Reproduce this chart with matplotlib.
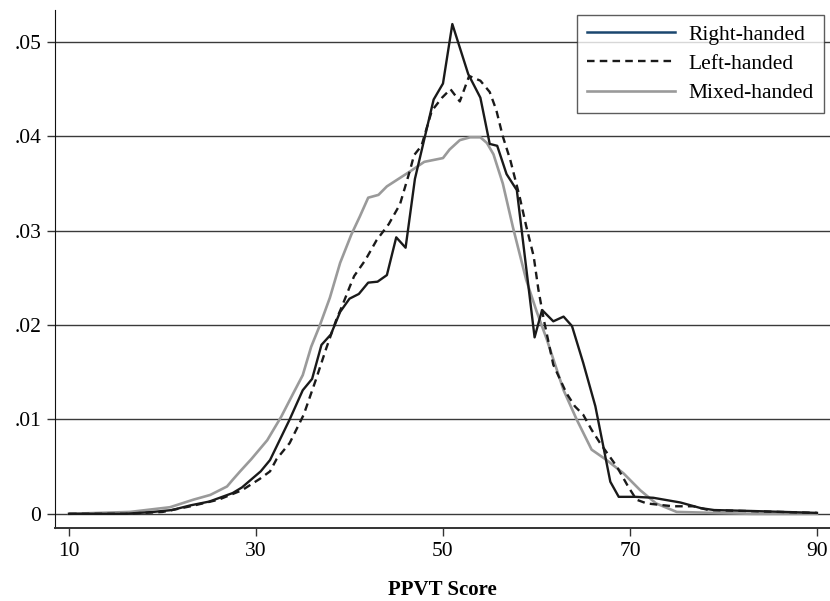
"""
PPVT score densities by handedness, redrawn with matplotlib.
"""

import matplotlib

matplotlib.use("Agg")
import matplotlib.pyplot as plt
from matplotlib.lines import Line2D

plt.rcParams["font.family"] = ["Liberation Serif", "DejaVu Serif"]

# values (score, density)
right_x = [10, 16, 19, 21, 23, 25, 27.5, 28.5, 30.5, 31.5, 33.6, 35, 36, 37, 38, 39, 40, 41,
           42, 43, 44, 45, 46, 47, 49, 50, 51, 52.7, 54, 55, 55.8, 56.8, 57.9, 59.8, 60.6,
           61.8, 62.9, 63.8, 65, 66.3, 67.9, 68.8, 70.6, 72.5, 75.4, 77.6, 79, 83, 90]
right_y = [0.0, 0.0, 0.0002, 0.0004, 0.0009, 0.0013, 0.0022, 0.0028, 0.0045, 0.0057, 0.0100,
           0.0131, 0.0143, 0.0179, 0.0190, 0.0214, 0.0228, 0.0233, 0.0245, 0.0246, 0.0253,
           0.0293, 0.0282, 0.0355, 0.0439, 0.0456, 0.0519, 0.0466, 0.0441, 0.0392, 0.0390,
           0.0360, 0.0343, 0.0187, 0.0216, 0.0204, 0.0209, 0.0199, 0.0160, 0.0114, 0.0034,
           0.0018, 0.0018, 0.0017, 0.0012, 0.0006, 0.0004, 0.0003, 0.0001]

left_x = [10, 16, 20, 23, 26, 28.5, 30.4, 31.5, 32.2, 33.6, 35.1, 36.4, 37.5, 38.6, 39.2, 40,
          40.5, 41.7, 42.9, 44.2, 45.4, 46.5, 46.9, 47.7, 48.8, 49.9, 50.8, 51.8, 52.8, 54,
          55, 55.7, 56.4, 57.2, 58.2, 58.9, 59.7, 60.2, 60.8, 61.8, 63.2, 64.1, 65, 65.9,
          66.8, 68.6, 69.8, 70.7, 71.8, 74.6, 76.8, 78.4, 90]
left_y = [0.0, 0.0, 0.0002, 0.0008, 0.0015, 0.0025, 0.0037, 0.0045, 0.0058, 0.0075, 0.0105,
          0.0142, 0.0175, 0.0206, 0.0220, 0.0240, 0.0252, 0.0269, 0.0290, 0.0307, 0.0328,
          0.0365, 0.0380, 0.0390, 0.0427, 0.0441, 0.0450, 0.0437, 0.0464, 0.0459, 0.0447,
          0.0428, 0.0400, 0.0375, 0.0336, 0.0305, 0.0273, 0.0238, 0.0205, 0.0158, 0.0128,
          0.0114, 0.0105, 0.0089, 0.0075, 0.0050, 0.0029, 0.0015, 0.0011, 0.0008, 0.0008,
          0.0004, 0.0001]

mixed_x = [10, 16.5, 20.8, 23.3, 25.1, 26.9, 27.5, 28.3, 29.5, 31.2, 32.7, 34, 35, 35.9, 36.8,
           37.9, 39, 40.2, 41.1, 42, 43.1, 44, 46.5, 48, 49, 50, 50.7, 51.8, 52.9, 54, 54.7,
           55.4, 56.4, 57.5, 58.9, 60, 61.1, 62.9, 64.3, 65.9, 67.5, 69.3, 71.1, 72.8, 75,
           83, 90]
mixed_y = [0.0, 0.0002, 0.0007, 0.0015, 0.0020, 0.0029, 0.0036, 0.0045, 0.0058, 0.0078,
           0.0103, 0.0128, 0.0147, 0.0177, 0.0199, 0.0229, 0.0266, 0.0296, 0.0315, 0.0335,
           0.0338, 0.0347, 0.0363, 0.0373, 0.0375, 0.0377, 0.0386, 0.0396, 0.0399, 0.0399,
           0.0393, 0.0381, 0.0350, 0.0303, 0.0248, 0.0215, 0.0185, 0.0131, 0.0100, 0.0068,
           0.0057, 0.0043, 0.0025, 0.0011, 0.0002, 0.0, 0.0]

x_ticks = [10, 30, 50, 70, 90]
y_ticks = [0, 0.01, 0.02, 0.03, 0.04, 0.05]
y_tick_labels = ["0", ".01", ".02", ".03", ".04", ".05"]
series_labels = ["Right-handed", "Left-handed", "Mixed-handed"]


def main():
    fig = plt.figure(figsize=(8.3, 6.01), dpi=100)
    ax = fig.add_axes([0.0663, 0.1215, 0.9337, 0.862])

    for yv in y_ticks:
        ax.axhline(yv, color="#3a3a3a", linewidth=1.0, zorder=1)

    ax.plot(mixed_x, mixed_y, color="#9a9a9a", linewidth=1.9, zorder=2)
    ax.plot(left_x, left_y, color="#1a1a1a", linewidth=1.7, linestyle=(0, (3.2, 2.2)), zorder=3)
    ax.plot(right_x, right_y, color="#1a1a1a", linewidth=1.7, zorder=4)

    ax.set_xlim(8.5, 91.4)
    ax.set_ylim(-0.0015, 0.0534)
    ax.set_xticks(x_ticks)
    ax.set_yticks(y_ticks)
    ax.set_yticklabels(y_tick_labels)
    ax.tick_params(axis="both", labelsize=15.5, length=6, width=1.0, color="#333333", pad=4)
    for side in ("top", "right"):
        ax.spines[side].set_visible(False)
    ax.spines["left"].set_color("#111111")
    ax.spines["bottom"].set_color("#333333")
    ax.spines["bottom"].set_linewidth(1.4)

    ax.set_xlabel("PPVT Score", fontsize=15, fontweight="bold", labelpad=14)

    handles = [
        Line2D([], [], color="#1a476f", linewidth=1.8),
        Line2D([], [], color="#1a1a1a", linewidth=1.7, linestyle=(0, (3.2, 2.2))),
        Line2D([], [], color="#9a9a9a", linewidth=1.9),
    ]
    leg = ax.legend(handles, series_labels, loc="upper right", bbox_to_anchor=(0.992, 0.99),
                    fontsize=15.5, frameon=True, fancybox=False, handlelength=4.1,
                    borderpad=0.45, labelspacing=0.42, handletextpad=0.65, borderaxespad=0)
    leg.get_frame().set_edgecolor("#333333")
    leg.get_frame().set_linewidth(1.0)
    leg.set_zorder(10)

    fig.savefig("out.png", dpi=100)
    plt.close(fig)


if __name__ == "__main__":
    main()
